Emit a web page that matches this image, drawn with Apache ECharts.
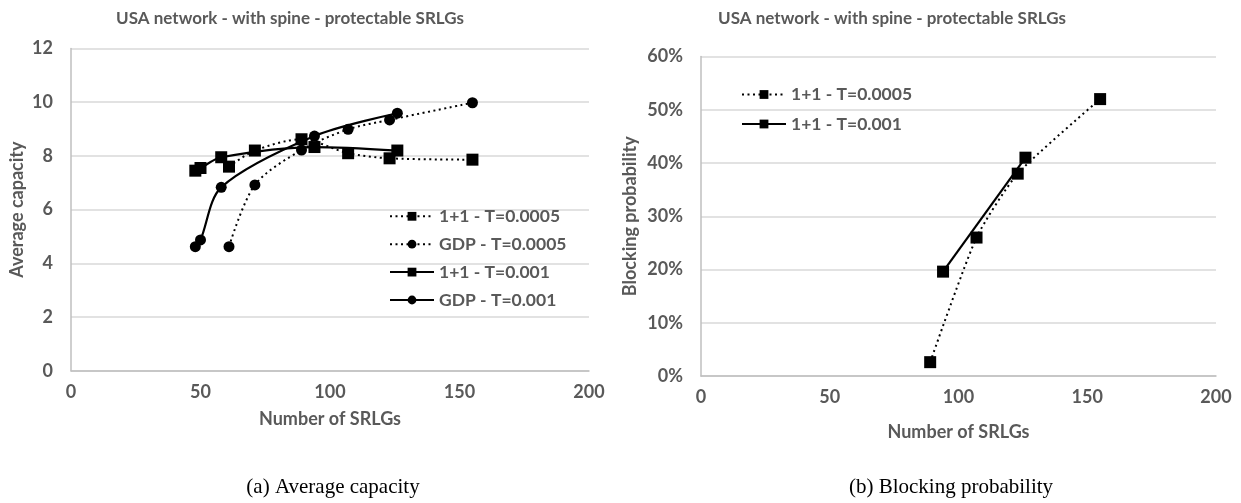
<!DOCTYPE html>
<html>
<head>
<meta charset="utf-8">
<script src="https://cdn.jsdelivr.net/npm/echarts@6/dist/echarts.min.js"></script>
<style>
html,body{margin:0;padding:0;background:#fff;}
#c{width:1241px;height:503px;}
</style>
</head>
<body>
<div id="c"></div>
<script>
// ---- data ----
const chartTitle = 'USA network - with spine - protectable SRLGs';
const seriesNames = ['1+1 - T=0.0005', 'GDP - T=0.0005', '1+1 - T=0.001', 'GDP - T=0.001'];
// SRLG counts
const srlgT0005 = [61, 71, 89, 107, 123, 155];
const srlgT001 = [48, 50, 58, 94, 126];
// Average capacity
const capOneT0005 = [7.6, 8.2, 8.62, 8.1, 7.91, 7.86];
const capGdpT0005 = [4.62, 6.92, 8.22, 8.99, 9.34, 9.98];
const capOneT001 = [7.45, 7.55, 7.95, 8.33, 8.2];
const capGdpT001 = [4.62, 4.87, 6.83, 8.74, 9.59];
// Blocking probability (%)
const blockSrlgT0005 = [89, 107, 123, 155];
const blockOneT0005 = [2.6, 26.0, 38.0, 52.0];
const blockSrlgT001 = [94, 126];
const blockOneT001 = [19.6, 41.0];
// axes
const xTicks = [0, 50, 100, 150, 200];
const capTicks = [0, 2, 4, 6, 8, 10, 12];
const blockTicks = [0, 10, 20, 30, 40, 50, 60];
const captions = ['(a) Average capacity', '(b) Blocking probability'];

function pairs(xs, ys) { return xs.map((x, i) => [x, ys[i]]); }

const FONT = 'Lato';
const GRAY = '#595959';
const labelStyle = { color: GRAY, fontFamily: FONT, fontWeight: 'bold', fontSize: 18 };
const nameStyle = { color: GRAY, fontFamily: FONT, fontWeight: 'bold', fontSize: 18 };
const dotted = { color: '#000', width: 2, type: [2, 3.5] };
const solid = { color: '#000', width: 2.2, type: 'solid' };
const SQ = 12, CI = 11;

function xAxis(gi, nameGap) {
  return {
    type: 'value', gridIndex: gi, min: xTicks[0], max: xTicks[xTicks.length - 1], interval: 50,
    name: 'Number of SRLGs', nameLocation: 'middle', nameGap: nameGap,
    nameTextStyle: nameStyle,
    axisLine: { show: true, lineStyle: { color: '#bfbfbf', width: 1.5 } },
    axisTick: { show: false },
    splitLine: { show: false },
    axisLabel: Object.assign({ margin: 12 }, labelStyle)
  };
}

const legendText = { color: GRAY, fontFamily: FONT, fontWeight: 'bold', fontSize: 17.5 };

const option = {
  animation: false,
  backgroundColor: '#fff',
  grid: [
    { left: 71, top: 48.5, width: 518, height: 322.2 },
    { left: 701, top: 56.5, width: 515, height: 319.5 }
  ],
  xAxis: [xAxis(0, 39), xAxis(1, 47)],
  yAxis: [
    {
      type: 'value', gridIndex: 0, min: 0, max: 12, interval: 2,
      name: 'Average capacity', nameLocation: 'middle', nameGap: 45,
      nameTextStyle: nameStyle,
      axisLine: { show: true, lineStyle: { color: '#bfbfbf', width: 1.5 } },
      axisTick: { show: false },
      splitLine: { show: true, lineStyle: { color: '#d9d9d9', width: 1.5 } },
      axisLabel: Object.assign({ margin: 18 }, labelStyle)
    },
    {
      type: 'value', gridIndex: 1, min: 0, max: 60, interval: 10,
      name: 'Blocking probability', nameLocation: 'middle', nameGap: 62,
      nameTextStyle: nameStyle,
      axisLine: { show: true, lineStyle: { color: '#bfbfbf', width: 1.5 } },
      axisTick: { show: false },
      splitLine: { show: true, lineStyle: { color: '#d9d9d9', width: 1.5 } },
      axisLabel: Object.assign({ margin: 18, formatter: '{value}%' }, labelStyle)
    }
  ],
  legend: [
    {
      orient: 'vertical', left: 389, top: 207.3, padding: 0, itemWidth: 44, itemHeight: 11, itemGap: 9.9,
      data: seriesNames.map(n => ({ name: n })),
      textStyle: legendText,
      selectedMode: false
    },
    {
      orient: 'vertical', left: 741, top: 85.5, padding: 0, itemWidth: 44, itemHeight: 11, itemGap: 11.5,
      data: [{ name: 'B ' + seriesNames[0] }, { name: 'B ' + seriesNames[2] }],
      formatter: n => n.slice(2),
      textStyle: legendText,
      selectedMode: false
    }
  ],
  series: [
    { name: seriesNames[0], type: 'line', xAxisIndex: 0, yAxisIndex: 0, smooth: 0.3,
      data: pairs(srlgT0005, capOneT0005), symbol: 'rect', symbolSize: SQ,
      itemStyle: { color: '#000' }, lineStyle: dotted },
    { name: seriesNames[1], type: 'line', xAxisIndex: 0, yAxisIndex: 0, smooth: 0.3,
      data: pairs(srlgT0005, capGdpT0005), symbol: 'circle', symbolSize: CI,
      itemStyle: { color: '#000' }, lineStyle: dotted },
    { name: seriesNames[2], type: 'line', xAxisIndex: 0, yAxisIndex: 0, smooth: 0.3,
      data: pairs(srlgT001, capOneT001), symbol: 'rect', symbolSize: SQ,
      itemStyle: { color: '#000' }, lineStyle: solid },
    { name: seriesNames[3], type: 'line', xAxisIndex: 0, yAxisIndex: 0, smooth: 0.3,
      data: pairs(srlgT001, capGdpT001), symbol: 'circle', symbolSize: CI,
      itemStyle: { color: '#000' }, lineStyle: solid },
    { name: 'B ' + seriesNames[0], type: 'line', xAxisIndex: 1, yAxisIndex: 1, smooth: 0.2,
      data: pairs(blockSrlgT0005, blockOneT0005), symbol: 'rect', symbolSize: SQ,
      itemStyle: { color: '#000' }, lineStyle: dotted },
    { name: 'B ' + seriesNames[2], type: 'line', xAxisIndex: 1, yAxisIndex: 1, smooth: 0.2,
      data: pairs(blockSrlgT001, blockOneT001), symbol: 'rect', symbolSize: SQ,
      itemStyle: { color: '#000' }, lineStyle: solid }
  ],
  graphic: [
    { type: 'text', x: 290, y: 19, style: { text: chartTitle, x: 0, y: 0, align: 'center', verticalAlign: 'middle',
        fill: GRAY, font: 'bold 17px Lato' } },
    { type: 'text', x: 892, y: 19, style: { text: chartTitle, x: 0, y: 0, align: 'center', verticalAlign: 'middle',
        fill: GRAY, font: 'bold 17px Lato' } },
    { type: 'text', x: 333, y: 487, style: { text: captions[0], x: 0, y: 0, align: 'center', verticalAlign: 'middle',
        fill: '#000', font: '21px "Liberation Serif"' } },
    { type: 'text', x: 951, y: 487, style: { text: captions[1], x: 0, y: 0, align: 'center', verticalAlign: 'middle',
        fill: '#000', font: '21px "Liberation Serif"' } }
  ]
};

const chart = echarts.init(document.getElementById('c'), null, { renderer: 'canvas' });
chart.setOption(option);
</script>
</body>
</html>
